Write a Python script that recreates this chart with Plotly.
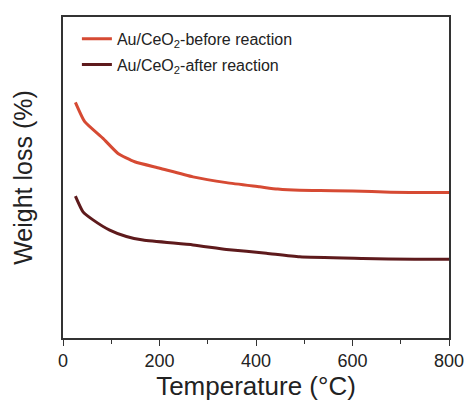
import plotly.graph_objects as go

temp_before = [25.7, 45, 82.9, 114, 148.6, 200.4, 269.4, 338.7, 407.7, 445, 490.5, 560, 640, 718.5, 800]
loss_before = [73.4, 67.4, 62.2, 57.5, 54.9, 52.9, 50.2, 48.4, 47.1, 46.4, 46.0, 45.9, 45.6, 45.3, 45.3]

temp_after = [25.7, 41.5, 62.2, 96.8, 131.4, 165.8, 269.4, 338.7, 421.5, 490.5, 621, 728.9, 800]
loss_after = [44.2, 39.3, 36.8, 33.6, 31.6, 30.5, 29.0, 27.6, 26.4, 25.3, 24.8, 24.5, 24.5]

x_ticks = [0, 200, 400, 600, 800]

fig = go.Figure()
fig.add_trace(go.Scatter(x=temp_before, y=loss_before, mode="lines",
                         name="Au/CeO<sub>2</sub>-before reaction", legendgroup="a",
                         line=dict(color="#D64A33", width=3, shape="spline", smoothing=0.5)))
fig.add_trace(go.Scatter(x=temp_after, y=loss_after, mode="lines",
                         name="Au/CeO<sub>2</sub>-after reaction", legendgroup="b",
                         line=dict(color="#5E1A1C", width=3, shape="spline", smoothing=0.5)))

fig.update_layout(
    width=471, height=403,
    margin=dict(l=63, r=22, t=17, b=65),
    plot_bgcolor="white", paper_bgcolor="white",
    font=dict(family="Liberation Sans, Arial, sans-serif", color="#222"),
    showlegend=True,
    legend=dict(x=0.036, y=0.985, xanchor="left", yanchor="top",
                bgcolor="rgba(0,0,0,0)", font=dict(size=16, color="#222"),
                traceorder="grouped", tracegroupgap=2),
    xaxis=dict(range=[0, 800], tickvals=x_ticks, ticks="outside", ticklen=6,
               tickwidth=1.2, tickcolor="#333", automargin=False,
               minor=dict(ticks="outside", ticklen=4, dtick=100, tickcolor="#333"),
               showline=True, linecolor="#333", linewidth=1.5, mirror=True,
               showgrid=False, zeroline=False,
               tickfont=dict(size=18, color="#222"),
               title=dict(text="Temperature (°C)", font=dict(size=26, color="#222"), standoff=2)),
    yaxis=dict(range=[0, 100], showticklabels=False, ticks="", automargin=False,
               showline=True, linecolor="#333", linewidth=1.5, mirror=True,
               showgrid=False, zeroline=False,
               title=dict(text="Weight loss (%)", font=dict(size=25, color="#222"), standoff=22)),
)

fig.write_html("out.html")
